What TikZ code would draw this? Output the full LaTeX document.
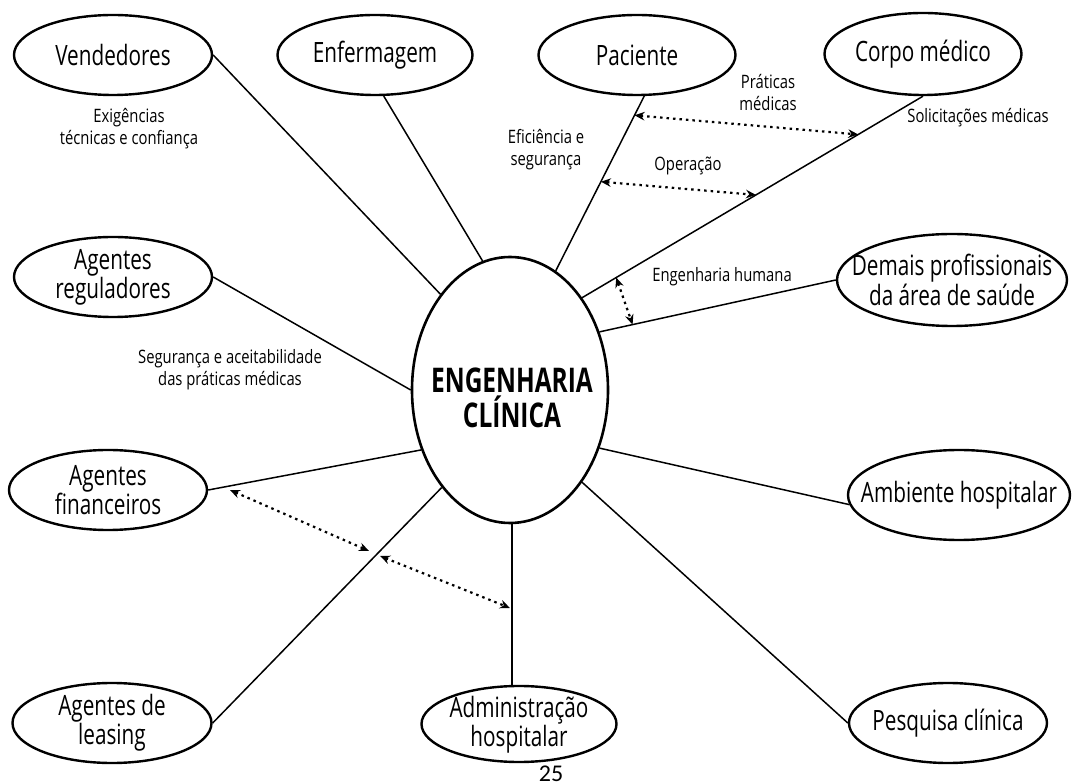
\documentclass[tikz,border=0pt]{standalone}
\usepackage{fontspec}
\setmainfont[FakeStretch=0.8]{Open Sans}
\newfontfamily\nodefont[FakeStretch=0.74]{Open Sans}
\newfontfamily\centerfont[FakeStretch=0.72]{Open Sans}
\newfontfamily\pagefont{Carlito}
\usetikzlibrary{shapes.geometric,arrows.meta}
\tikzset{
  ent/.style={ellipse, draw, line width=2.4pt, inner sep=0pt, minimum width=198pt,
    minimum height=80pt},
  tx/.style={align=center, inner sep=0pt, font=\nodefont\fontsize{28}{27}\selectfont},
  lbl/.style={align=center, inner sep=0pt, font=\fontsize{18.5}{22}\selectfont},
  link/.style={line width=1.5pt},
  dual/.style={line width=2.2pt, dash pattern=on 2.5pt off 4pt,
    {Stealth[length=10pt,width=8.5pt]}-{Stealth[length=10pt,width=8.5pt]}}
}
\begin{document}
\begin{tikzpicture}[x=1pt,y=-1pt]
\useasboundingbox (0,0) rectangle (1072,783);
% central
\node[ellipse, draw, line width=2.6pt, minimum width=196pt, minimum height=266pt, inner sep=0pt] (C) at (510,390) {};
\node[align=center, inner sep=0pt, font=\centerfont\bfseries\fontsize{34}{35}\selectfont] (Ct) at (512,398) {ENGENHARIA\\CLÍNICA};
% outer nodes
\node[ent, label={[tx]center:Vendedores}] (V) at (113,55) {};
\node[ent, minimum width=195pt, label={[tx]center:Enfermagem}] (E) at (375,55) {};
\node[ent, minimum width=197pt, label={[tx]center:Paciente}] (P) at (637,55) {};
\node[ent, minimum width=197pt, minimum height=82pt, label={[tx]center:Corpo médico}] (M) at (923,54) {};
\node[ent, label={[tx]center:{Agentes\\reguladores}}] (R) at (113,277) {};
\node[ent, minimum width=230pt, minimum height=92pt, label={[tx]center:{Demais profissionais\\da área de saúde}}] (D) at (952,280) {};
\node[ent, label={[tx]center:{Agentes\\financeiros}}] (F) at (108,490) {};
\node[ent, minimum width=222pt, minimum height=90pt, label={[tx]center:Ambiente hospitalar}] (H) at (959,495) {};
\node[ent, minimum width=199pt, label={[tx]center:{Agentes de\\leasing}}] (L) at (112,723) {};
\node[ent, minimum width=195pt, minimum height=76pt, label={[tx, font=\nodefont\fontsize{28}{24}\selectfont, yshift=-1pt]center:{Administração\\hospitalar}}] (A) at (519,724) {};
\node[ent, minimum width=198pt, label={[tx]center:Pesquisa clínica}] (Q) at (948,723) {};
% links
\draw[link] (V.east) -- (C.126);
\draw[link] (E.-78) -- (C.102);
\draw[link] (P.-80) -- (C.69);
\draw[link] (M.south) -- (C.52);
\draw[link] (D.west) -- (C.33);
\draw[link] (R.east) -- (C.180);
\draw[link] (F.east) -- (C.214);
\draw[link] (L.east) -- (C.235);
\coordinate (cb) at ([xshift=2pt]C.south);
\draw[link] (cb) -- (cb |- A.north);
\draw[link] (H.185) -- (C.-33);
\draw[link] (Q.west) -- (C.-52);
% ends of the dotted arrows
\path (P.-80) -- (C.69) coordinate[pos=0.11] (p1) coordinate[pos=0.49] (p2);
\path (M.south) -- (C.52) coordinate[pos=0.19] (m1) coordinate[pos=0.49] (m2) coordinate[pos=0.9] (m3);
\path (D.west) -- (C.33) coordinate[pos=0.86] (d1);
\coordinate (f1) at (230,490);
\coordinate (l1) at (369,551);
\coordinate (l2) at (380,556);
\coordinate (a1) at (510,608);
% dotted arrows
\draw[dual] (p1) -- (m1);
\draw[dual] (p2) -- (m2);
\draw[dual] (m3) -- (d1);
\draw[dual] (f1) -- (l1);
\draw[dual] (l2) -- (a1);
% labels
\node[lbl] (t1) at (129,129) {Exigências\\técnicas e confiança};
\node[lbl] (t2) at (546,150) {Eficiência e\\segurança};
\node[lbl] (t3) at (768,93) {Práticas\\médicas};
\node[lbl] (t4) at (688,166) {Operação};
\node[lbl] (t5) at (978,118) {Solicitações médicas};
\node[lbl] (t6) at (722,277) {Engenharia humana};
\node[lbl] (t7) at (230,370) {Segurança e aceitabilidade\\das práticas médicas};
\node[inner sep=0pt, anchor=base, font=\pagefont\fontsize{24}{26}\selectfont] (pg) at (551,781) {25};
\end{tikzpicture}
\end{document}
